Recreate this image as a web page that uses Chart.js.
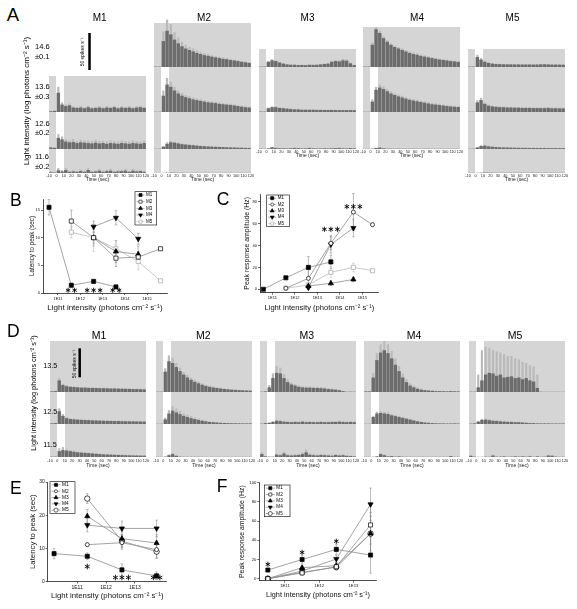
<!DOCTYPE html>
<html>
<head>
<meta charset="utf-8">
<script src="https://cdn.jsdelivr.net/npm/chart.js@4.4.1/dist/chart.umd.min.js"></script>
<style>
  html, body { margin: 0; padding: 0; background: #fff; }
  #fig { position: relative; width: 577px; height: 609px; overflow: hidden; font-family: "Liberation Sans", Arial, sans-serif; color: #000; }
  #fig canvas { position: absolute; z-index: 1; }
  .bg { position: absolute; z-index: 0; }
  .t { position: absolute; line-height: 1; white-space: nowrap; z-index: 2; }
</style>
</head>
<body>
<div id="fig"></div>
<script>
// 5 s bins of the PSTHs (bin centres, sec)
const TIME_BINS = [-7.5, -2.5, 2.5, 7.5, 12.5, 17.5, 22.5, 27.5, 32.5, 37.5, 42.5, 47.5, 52.5, 57.5, 62.5, 67.5, 72.5, 77.5, 82.5, 87.5, 92.5, 97.5, 102.5, 107.5, 112.5, 117.5];
const TIME_TICKS = [-10, 0, 10, 20, 30, 40, 50, 60, 70, 80, 90, 100, 110, 120];
const MICE = ['M1', 'M2', 'M3', 'M4', 'M5'];
const A_LEVELS = [['14.6', '±0.1'], ['13.6', '±0.3'], ['12.6', '±0.2'], ['11.6', '±0.2']];
const D_LEVELS = ['13.5', '12.5', '11.5'];

// Panel A, mean firing rate (spikes/s) and SEM
const A_M1_136 = [1, 1.5, 26, 10, 8, 9, 6, 5.5, 6, 5, 6.5, 5, 5.5, 6, 5, 6, 5.5, 6.5, 5, 6, 5.5, 6, 5, 6, 6.5, 5.5];
const A_M1_136_SEM = [0.5, 0.8, 8, 3, 2, 2.5, 1.5, 1.5, 2, 1.5, 2, 1.5, 1.5, 2, 1.5, 2, 1.5, 2, 1.5, 2, 1.5, 2, 1.5, 2, 2, 1.5];
const A_M1_126 = [2, 1.5, 15, 13, 10, 9, 9.5, 8, 9, 8.5, 8, 7.5, 8.5, 7.5, 8, 7, 8, 7.5, 7, 8, 7.5, 7, 8, 7.5, 7, 8];
const A_M1_126_SEM = [1, 1, 5, 4, 3.5, 3, 4, 3, 3.5, 3, 3, 3, 4, 3, 3, 3, 3.5, 3, 3, 3.5, 3, 3, 3.5, 3, 3, 3.5];
const A_M1_116 = [1, 0.5, 3.5, 2, 4, 1.5, 2, 1.5, 2.5, 1.5, 4, 1.5, 2, 3, 1.5, 2.5, 3, 1.5, 2, 2.5, 3, 1.5, 3, 2, 2.5, 1.5];
const A_M1_116_SEM = [1, 0.5, 3, 2, 3, 1.5, 2, 1.5, 2, 1.5, 3, 1.5, 2, 2.5, 1.5, 2, 2.5, 1.5, 2, 2, 2.5, 1.5, 2.5, 2, 2, 1.5];

const A_M2_146 = [0.5, 0.5, 35, 49, 44, 37, 32, 28, 25, 23, 21, 19, 17.5, 16, 15, 14, 13, 12, 11, 10.5, 9.5, 8.8, 8, 7, 6.3, 5.5];
const A_M2_146_SEM = [0.3, 0.3, 13, 15, 14, 10, 8, 6, 5, 4, 4, 3.5, 3, 3, 2.5, 2, 2, 2, 2, 1.5, 1.5, 1.2, 1.2, 1.2, 1, 1];
const A_M2_136 = [0.3, 0.3, 22, 37, 34, 29, 25, 22, 20, 18.5, 17, 16, 15, 14, 13, 12.5, 12, 11, 10.5, 10, 9.5, 8.8, 8, 7.2, 6.5, 6];
const A_M2_136_SEM = [0.2, 0.2, 7, 9, 7, 5, 4, 3.5, 3, 3, 2.5, 2.5, 2.2, 2, 2, 2, 1.8, 1.8, 1.5, 1.5, 1.5, 1.5, 1.3, 1.2, 1, 1];
const A_M2_126 = [0.3, 0.3, 3, 7, 9, 8.5, 7.5, 6.5, 6, 5.5, 5, 4.5, 4, 3.7, 3.4, 3.1, 2.9, 2.7, 2.5, 2.3, 2.1, 2, 1.8, 1.7, 1.5, 1.4];
const A_M2_126_SEM = [0, 0, 1, 2, 2, 1.5, 1.2, 1, 1, 0.8, 0.8, 0.7, 0.6, 0.6, 0.5, 0.5, 0.5, 0.4, 0.4, 0.4, 0.3, 0.3, 0.3, 0.3, 0.3, 0.3];
const A_M2_116 = [0, 0, 0.3, 0.5, 0.5, 0.4, 0.3, 0.3, 0.2, 0.2, 0.2, 0.2, 0.2, 0.2, 0.2, 0.2, 0.2, 0.2, 0.2, 0.2, 0.2, 0.2, 0.2, 0.2, 0.2, 0.2];

const A_M3_146 = [0.5, 0.5, 7, 9, 8, 6, 4.5, 3.5, 3, 3, 2.5, 2.7, 2.5, 3, 2.8, 3, 3.5, 4, 4.5, 7, 8, 7.5, 9, 8.5, 5, 2.5];
const A_M3_146_SEM = [0, 0, 1, 1.5, 1, 1, 0.8, 0.6, 0.5, 0.5, 0.5, 0.5, 0.5, 0.5, 0.5, 0.5, 0.6, 0.7, 0.8, 1.5, 1.5, 1.5, 2, 2, 1, 0.5];
const A_M3_136 = [0.5, 0.5, 5, 6.5, 6.5, 5.5, 5, 4.5, 4, 3.5, 3.5, 3, 3, 3, 3, 2.8, 2.8, 2.7, 2.7, 2.7, 2.6, 2.5, 2.5, 2.5, 2.5, 2.4];
const A_M3_136_SEM = [0.2, 0.2, 1, 1.2, 1.2, 1, 1, 0.8, 0.8, 0.7, 0.7, 0.6, 0.6, 0.6, 0.6, 0.6, 0.6, 0.5, 0.5, 0.5, 0.5, 0.5, 0.5, 0.5, 0.5, 0.5];
const A_M3_126 = [0.5, 0.3, 1, 2.5, 1.5, 1, 1, 0.8, 1, 1.5, 1.2, 0.8, 1, 1.5, 1, 0.8, 0.8, 1, 0.8, 1, 1.2, 1.5, 1, 0.8, 1.3, 1];

const A_M4_146 = [0.5, 0.5, 30, 51, 46, 39, 34, 30, 27, 25, 23, 21, 19, 17.5, 16.5, 15, 14, 13, 12, 11, 10, 9.5, 8.8, 8, 7.5, 7];
const A_M4_146_SEM = [0.2, 0.2, 3, 3, 3, 2.5, 2.5, 2, 2, 2, 2, 2, 2, 2, 2, 1.8, 1.8, 1.5, 1.5, 1.5, 1.5, 1.3, 1.3, 1.2, 1.2, 1];
const A_M4_136 = [0.3, 0.3, 14, 30, 33, 31, 28, 25, 23, 21, 19.5, 18, 16.5, 15.5, 14.5, 13.5, 12.5, 11.5, 10.5, 10, 9.3, 8.7, 8, 7.5, 7, 6.7];
const A_M4_136_SEM = [0, 0, 3, 4, 4, 3.5, 3, 3, 2.5, 2.5, 2.5, 2.5, 2, 2, 2, 2, 2, 2, 2, 1.8, 1.8, 1.5, 1.5, 1.5, 1.5, 1.3];
const A_M4_126 = [0.2, 0.2, 0.5, 1.5, 2, 1, 0.5, 0.5, 0.4, 0.4, 0.4, 0.4, 0.4, 0.4, 0.4, 0.3, 0.3, 0.3, 0.3, 0.3, 0.3, 0.3, 0.3, 0.3, 0.3, 0.3];

const A_M5_146 = [0.5, 0.5, 13.5, 10, 7, 5.5, 4.5, 4, 3.8, 3.6, 3.5, 3.5, 3.4, 3.4, 3.3, 3.3, 3.3, 3.2, 3.3, 3.5, 3.6, 3.4, 3.2, 3.2, 3.1, 3];
const A_M5_146_SEM = [0.2, 0.2, 3, 2, 1.5, 1, 0.8, 0.6, 0.6, 0.5, 0.5, 0.5, 0.5, 0.5, 0.5, 0.5, 0.5, 0.5, 0.5, 0.5, 0.5, 0.5, 0.5, 0.5, 0.5, 0.5];
const A_M5_136 = [0.3, 0.3, 13, 16, 11, 8.5, 7.5, 7, 6.5, 6.5, 6, 6, 5.8, 5.8, 5.5, 5.5, 5.5, 5.3, 5.3, 5.2, 5.2, 5.5, 5, 5, 4.8, 4.8];
const A_M5_136_SEM = [0.2, 0.2, 3, 3, 2, 1.5, 1.2, 1, 1, 1, 1, 1, 1, 1, 1, 1, 1, 1, 1, 1, 1, 1, 1, 1, 1, 1];
const A_M5_126 = [0.3, 0.3, 2, 4, 4.5, 3.5, 3, 2.6, 2.3, 2.1, 2, 1.8, 1.7, 1.6, 1.5, 1.5, 1.4, 1.4, 1.3, 1.3, 1.3, 1.2, 1.2, 1.2, 1.1, 1.1];
const A_M5_126_SEM = [0, 0, 0.5, 1, 1, 0.8, 0.6, 0.5, 0.5, 0.4, 0.4, 0.4, 0.3, 0.3, 0.3, 0.3, 0.3, 0.3, 0.3, 0.3, 0.3, 0.3, 0.3, 0.3, 0.3, 0.3];
const A_M5_116 = [0.2, 0.2, 0.3, 0.5, 0.6, 0.5, 0.4, 0.3, 0.3, 0.3, 0.3, 0.3, 0.3, 0.3, 0.3, 0.3, 0.3, 0.3, 0.3, 0.3, 0.3, 0.3, 0.3, 0.3, 0.3, 0.3];

// Panel D
const D_M1_135 = [1, 1.5, 20, 12, 10, 9, 8.5, 8, 7.5, 7.5, 7, 7, 6.8, 6.5, 6.5, 6.3, 6, 6, 5.8, 5.6, 5.5, 5.3, 5, 5, 4.8, 4.5];
const D_M1_135_SEM = [0.5, 0.5, 4, 2, 1.5, 1, 1, 1, 1, 1, 1, 1, 0.8, 0.8, 0.8, 0.8, 0.8, 0.8, 0.8, 0.8, 0.7, 0.7, 0.7, 0.7, 0.7, 0.7];
const D_M1_125 = [1, 1.5, 22, 14, 10, 8.5, 8, 7.5, 7, 6.8, 6.5, 6.2, 6, 5.8, 5.5, 5.3, 5.2, 5, 5, 4.8, 4.6, 4.5, 4.5, 4.3, 4.2, 4];
const D_M1_125_SEM = [0.5, 0.5, 5, 3, 2, 1.5, 1.5, 1.2, 1.2, 1.2, 1, 1, 1, 1, 1, 1, 1, 1, 1, 1, 1, 1, 1, 1, 1, 1];
const D_M1_115 = [0.5, 0.5, 10, 12, 11, 10, 9, 8, 7.5, 7, 6.5, 6, 5.5, 5, 4.5, 4.2, 4, 3.7, 3.5, 3.2, 3, 2.8, 2.6, 2.5, 2.3, 2.2];
const D_M1_115_SEM = [0.3, 0.3, 5, 5, 3, 2, 2, 1.5, 1.5, 1.5, 1.2, 1.2, 1.2, 1, 1, 1, 1, 1, 1, 1, 1, 1, 1, 1, 1, 1];

const D_M2_135 = [0.5, 0.5, 35, 53, 50, 43, 36, 30, 25, 21, 17.5, 15, 12.5, 10.5, 9, 7.8, 6.8, 6, 5.2, 4.6, 4, 3.6, 3.2, 2.9, 2.6, 2.3];
const D_M2_135_SEM = [0, 0, 6, 10, 9, 7, 6, 5, 4.5, 4, 3.5, 3, 2.5, 2, 1.8, 1.5, 1.3, 1.2, 1, 1, 0.8, 0.8, 0.7, 0.6, 0.5, 0.5];
const D_M2_125 = [0.3, 0.3, 8, 18, 23, 20, 17, 14, 12, 10, 8.5, 7, 5.5, 4.5, 3.5, 3, 2.5, 2, 1.7, 1.5, 1.3, 1.2, 1.1, 1, 1, 1];
const D_M2_125_SEM = [0, 0, 3, 6, 8, 7, 6, 5, 4, 3.5, 3, 2.5, 2, 1.5, 1.2, 1, 0.8, 0.6, 0.5, 0.5, 0.4, 0.4, 0.3, 0.3, 0.3, 0.3];
const D_M2_115 = [0.2, 0.2, 0.5, 3, 5, 2, 0.5, 0.3, 0.3, 0.3, 0.3, 0.3, 0.2, 0.2, 0.2, 0.2, 0.2, 0.2, 0.2, 0.2, 0.2, 0.2, 0.2, 0.2, 0.2, 0.2];
const D_M2_115_SEM = [0, 0, 0.5, 1.5, 2, 1, 0.3, 0.2, 0.2, 0.2, 0.2, 0.2, 0.1, 0.1, 0.1, 0.1, 0.1, 0.1, 0.1, 0.1, 0.1, 0.1, 0.1, 0.1, 0.1, 0.1];

const D_M3_135 = [0.5, 1, 8, 24, 33, 32, 24, 17, 13, 11, 9, 8, 7.5, 7.5, 7, 7, 6.5, 6, 5, 4.5, 4, 3, 1.5, 0.5, 0.5, 0.5];
const D_M3_135_SEM = [0, 0, 4, 8, 12, 10, 7, 5, 3, 2.5, 2, 2, 2, 2, 2, 2, 2, 2, 1.5, 1.5, 1.5, 1, 0.5, 0, 0, 0];
const D_M3_125 = [0.5, 1.5, 2, 3.5, 5.5, 5, 4, 3.5, 3, 3.5, 3, 4, 3, 3.5, 3, 3, 3.5, 3, 3, 3.5, 3.5, 4, 3.5, 3, 3.5, 3];
const D_M3_125_SEM = [0.5, 1, 1, 1.5, 2, 2, 1.5, 1.5, 1.5, 1.5, 1.5, 1.5, 1.5, 1.5, 1.5, 1.5, 1.5, 1.5, 1.5, 1.5, 1.5, 1.5, 1.5, 1.5, 1.5, 1.5];
const D_M3_115 = [5, 1, 0.5, 0.5, 4, 3, 6, 3, 2.5, 3, 3.5, 5, 8, 4, 3, 2.5, 3.5, 3, 2.5, 2, 3.5, 2.5, 3, 2, 1.5, 1];
const D_M3_115_SEM = [3, 0.5, 0, 0, 2, 2, 3, 2, 2, 2, 2, 3, 5, 2, 2, 2, 2, 2, 2, 2, 2, 2, 2, 1, 1, 1];

const D_M4_135 = [1, 1, 25, 55, 68, 72, 67, 58, 47, 36, 25, 17, 11, 8, 5.5, 4, 3, 2.5, 2, 1.5, 1.5, 1.3, 1.2, 1.5, 1.2, 1];
const D_M4_135_SEM = [0.5, 0.5, 8, 12, 14, 16, 15, 13, 11, 9, 7, 5, 4, 3, 2.5, 1.5, 1, 1, 0.8, 0.5, 0.5, 0.5, 0.5, 0.5, 0.5, 0.5];
const D_M4_125 = [0.3, 0.3, 12, 18, 19, 18, 17, 15, 13.5, 12, 10.5, 9, 7.5, 6, 4.5, 3.5, 2.5, 2, 1.5, 1.2, 1, 1, 0.8, 0.8, 1, 0.8];
const D_M4_125_SEM = [0, 0, 2, 3, 3, 3, 3, 2.5, 2, 2, 2, 1.5, 1.5, 1, 1, 1, 0.8, 0.6, 0.5, 0.5, 0.5, 0.5, 0.4, 0.4, 0.4, 0.4];
const D_M4_115 = [0.2, 0.2, 0.3, 1, 5, 3, 1, 1.5, 0.5, 1, 0.5, 0.3, 0.3, 0.3, 0.3, 0.3, 0.3, 0.3, 0.3, 0.3, 0.3, 0.3, 0.3, 1.5, 0.3, 0.3];
const D_M4_115_SEM = [0, 0, 0.2, 0.5, 2, 1.5, 0.5, 0.5, 0.3, 0.5, 0.3, 0.2, 0.2, 0.2, 0.2, 0.2, 0.2, 0.2, 0.2, 0.2, 0.2, 0.2, 0.2, 0.5, 0.2, 0.2];

const D_M5_135 = [0.5, 0.5, 8, 20, 30, 33, 32, 28, 30, 25, 26, 27, 24, 25, 22, 24, 20, 18, 7, 0.5, 0.3, 0.3, 0.3, 0.3, 0.3, 0.3];
const D_M5_135_SEM = [0, 0, 22, 52, 48, 43, 40, 42, 38, 40, 36, 35, 34, 31, 30, 26, 26, 26, 23, 0, 0, 0, 0, 0, 0, 0];
const D_M5_125 = [0.5, 1, 4, 7, 7.5, 6.5, 5.5, 5, 4.5, 4, 3.5, 3.5, 3, 3, 2.5, 2, 1.5, 1.5, 1, 1, 1, 1, 0.8, 0.8, 0.8, 0.8];
const D_M5_125_SEM = [0.5, 0.5, 1.5, 2, 2, 2, 1.5, 1.5, 1.5, 1.5, 1.5, 1.5, 1, 1, 1, 1, 0.8, 0.8, 0.5, 0.5, 0.5, 0.5, 0.5, 0.5, 0.5, 0.5];
const D_M5_115 = [2, 0.5, 0.2, 0.2, 0.5, 0.3, 2.5, 0.5, 0.5, 1, 0.3, 0.5, 1, 0.5, 1, 0.5, 1.2, 0.3, 1, 0.3, 0.5, 2.5, 2, 0.5, 0.3, 0.3];
const D_M5_115_SEM = [1.5, 0.5, 0.2, 0.2, 0.5, 0.3, 1.5, 0.5, 0.5, 0.8, 0.3, 0.5, 0.8, 0.5, 0.8, 0.5, 1, 0.3, 0.8, 0.3, 0.5, 1.5, 1.5, 0.5, 0.3, 0.3];

// B: latency to peak (sec) vs log10 light intensity
const B_M1_X = [10.6, 11.6, 12.6, 13.6], B_M1_Y = [15.5, 1.4, 2.1, 1.1], B_M1_ERR = [1.4, 0.3, 0.3, 0.3];
const B_M2_X = [11.6, 12.6, 13.6, 14.6, 15.6], B_M2_Y = [13, 10, 6.3, 6.5, 8], B_M2_ERR = [2, 1.5, 1.5, 1, 0.3];
const B_M3_X = [12.6, 13.6, 14.6], B_M3_Y = [10, 7.5, 7], B_M3_ERR = [1, 2, 1.5];
const B_M4_X = [12.6, 13.6, 14.6], B_M4_Y = [12, 13.6, 9.8], B_M4_ERR = [1, 1.3, 1];
const B_M5_X = [11.6, 12.6, 13.6, 14.6, 15.6], B_M5_Y = [11, 10, 8, 5.7, 2.2], B_M5_ERR = [1, 2.5, 1.5, 1.5, 0.3];
const B_STARS = [{ x: 11.6, y: 0.5, n: 2 }, { x: 12.6, y: 0.5, n: 3 }, { x: 13.6, y: 0.5, n: 2 }];

// C: peak response amplitude (Hz)
const C_M1_X = [10.6, 11.6, 12.6, 13.6], C_M1_Y = [0, 10.5, 20, 25], C_M1_ERR = [0.5, 1.5, 10, 6];
const C_M2_X = [11.6, 12.6, 13.6, 14.6, 15.45], C_M2_Y = [1, 10, 42, 70.5, 59], C_M2_ERR = [0.5, 8, 6, 17, 1];
const C_M3_X = [12.6, 13.6, 14.6], C_M3_Y = [3, 5.5, 9], C_M3_ERR = [1, 2, 2];
const C_M4_X = [12.6, 13.6, 14.6], C_M4_Y = [1.5, 41, 56], C_M4_ERR = [1, 8, 8];
const C_M5_X = [11.6, 12.6, 13.6, 14.6, 15.45], C_M5_Y = [1, 4, 15.5, 20, 17], C_M5_ERR = [0.5, 1, 5, 4, 1];
const C_STARS = [{ x: 13.6, y: 54.8, n: 3 }, { x: 14.6, y: 75.5, n: 3 }];

// E: latency to peak (sec)
const E_M1_X = [10.2, 11.35, 12.55, 13.75], E_M1_Y = [8.4, 7.6, 3.5, 1.7], E_M1_ERR = [1.5, 1, 1.8, 1.2];
const E_X = [11.35, 12.55, 13.75];
const E_M2_Y = [11.1, 11.7, 9.6], E_M2_ERR = [0.5, 2, 2.5];
const E_M3_Y = [19.7, 12.9, 11.6], E_M3_ERR = [2, 2.5, 2.5];
const E_M4_Y = [17, 16, 16], E_M4_ERR = [2, 2.2, 2.5];
const E_M5_Y = [25, 12.2, 9.0], E_M5_ERR = [1.5, 2, 2];
const E_STARS = [{ x: 11.35, y: 4.5, n: 1 }, { x: 12.55, y: 1.2, n: 3 }, { x: 13.75, y: 1.2, n: 2 }];

// F: peak response amplitude (Hz)
const F_X = [10.5, 11.5, 12.5, 13.5];
const F_M1_Y = [9, 20, 30.5, 24.6], F_M1_ERR = [1, 4, 5, 19];
const F_M2_Y = [0, 6, 12.5, 56], F_M2_ERR = [0.5, 1.5, 3, 20];
const F_M3_Y = [0, 11.5, 13.5, 47], F_M3_ERR = [0.5, 2, 3, 18];
const F_M4_Y = [0, 8, 20.5, 77.5], F_M4_ERR = [0.5, 2, 4, 17];
const F_M5_Y = [0, 6.6, 12, 47], F_M5_ERR = [0.5, 1.5, 3, 22];
const F_STARS = [{ x: 10.5, y: 15, n: 1 }, { x: 11.5, y: 27.4, n: 1 }, { x: 12.5, y: 39, n: 1 }];

const LOG_TICKS = [11, 12, 13, 14, 15];
const LOG_TICKS_EF = [11, 12, 13];

Chart.defaults.font.family = '"Liberation Sans", Arial, sans-serif';
Chart.defaults.color = '#111';

const fig = document.getElementById('fig');
const PAD_X = 6;
const T_MIN = -10, T_MAX = 120;

// plain background box (grey recording window / white light-on stripe)
function addBox(x, y, w, h, color) {
  const d = document.createElement('div');
  d.className = 'bg';
  d.style.left = x + 'px';
  d.style.top = y + 'px';
  d.style.width = w + 'px';
  d.style.height = h + 'px';
  d.style.background = color;
  fig.appendChild(d);
}

// 50 spikes/s scale bar drawn with the column's own scales
function scaleBarPlugin(bar) {
  return {
    id: 'scaleBar',
    afterDraw(chart) {
      if (!bar) return;
      const { ctx, scales: { x, y } } = chart;
      const px = x.getPixelForValue(bar.t);
      const y0 = y.getPixelForValue(bar.hz), y1 = y.getPixelForValue(bar.hz + 50);
      ctx.save();
      ctx.fillStyle = '#000';
      ctx.fillRect(px - bar.w / 2, y1, bar.w, y0 - y1);
      ctx.restore();
    }
  };
}

function barSet(data, color, order, pct) {
  return { data, backgroundColor: color, order, grouped: false, clip: false, borderWidth: 0, barPercentage: pct, categoryPercentage: 1 };
}

// time axis under each column: an empty chart that only shows its x scale
function timeAxis(left, base, L) {
  const cv = document.createElement('canvas');
  cv.width = L.width + 2 * PAD_X;
  cv.height = L.axisH + 1;
  cv.style.left = (left - PAD_X) + 'px';
  cv.style.top = (base - 1) + 'px';
  fig.appendChild(cv);
  new Chart(cv, {
    type: 'scatter',
    data: { datasets: [] },
    options: {
      responsive: false, animation: false, events: [],
      layout: { padding: { left: PAD_X, right: PAD_X, top: 0, bottom: 0 } },
      plugins: { legend: { display: false }, tooltip: { enabled: false } },
      scales: {
        x: {
          type: 'linear', min: T_MIN, max: T_MAX,
          grid: { display: false, drawTicks: false }, border: { display: false },
          afterBuildTicks: s => { s.ticks = TIME_TICKS.map(v => ({ value: v })); },
          afterFit: s => { s.height = L.axisH; },
          ticks: { font: { size: 3.8 }, color: '#222', padding: L.tickPad, maxRotation: 0, minRotation: 0, autoSkip: false },
          title: { display: true, text: 'Time (sec)', font: { size: 5 }, padding: 0, color: '#222' }
        },
        y: { display: false, min: 0, max: 1 }
      }
    }
  });
}

// one chart per mouse column; light levels are stacked as floating bars on a common spikes/s scale
function histColumn(col, c, L) {
  const used = col.map((v, r) => (v ? r : -1)).filter(r => r >= 0);
  const bottom = L.rowBase[used[used.length - 1]];
  const colTop = L.colTop[c];
  const left = L.left[c];
  const yMax = (bottom - colTop) / L.pxPerHz;
  const off = r => (bottom - L.rowBase[r]) / L.pxPerHz;
  const sb = L.scaleBar && L.scaleBar.col === c ? L.scaleBar : null;
  const padTop = sb ? sb.padTop : 6;

  // grey window and white light-on stripes behind the bars
  addBox(left, colTop, L.width, bottom - colTop, '#d5d5d5');
  const sx = left + L.width * (0 - T_MIN) / (T_MAX - T_MIN);
  const sw = L.width * 10 / (T_MAX - T_MIN);

  const datasets = [];
  used.forEach((r, k) => {
    const mean = col[r][0], sem = col[r][1], b = off(r);
    if (sem) datasets.push(barSet(TIME_BINS.map((t, i) => ({ x: t, y: [b, b + mean[i] + sem[i]] })), '#bababa', 2, 0.6));
    datasets.push(barSet(TIME_BINS.map((t, i) => ({ x: t, y: [b, b + mean[i]] })), '#6c6c6c', 1, 0.92));
    if (!L.noStripe.some(p => p[0] === c && p[1] === r)) {
      const y0 = k === 0 ? colTop : L.rowBase[used[k - 1]];
      addBox(sx, y0, sw, L.rowBase[r] - y0, '#fff');
    }
  });

  const cv = document.createElement('canvas');
  cv.width = L.width + 2 * PAD_X;
  cv.height = bottom - colTop + padTop;
  cv.style.left = (left - PAD_X) + 'px';
  cv.style.top = (colTop - padTop) + 'px';
  fig.appendChild(cv);

  const bar = sb ? { t: sb.t, w: sb.w, hz: (bottom - sb.px) / L.pxPerHz } : null;
  new Chart(cv, {
    type: 'bar',
    data: { datasets },
    options: {
      responsive: false, animation: false, events: [],
      layout: { padding: { left: PAD_X, right: PAD_X, top: padTop, bottom: 0 } },
      plugins: { legend: { display: false }, tooltip: { enabled: false } },
      scales: {
        x: { type: 'linear', min: T_MIN, max: T_MAX, offset: false, display: false },
        y: { display: false, min: 0, max: yMax }
      }
    },
    plugins: [scaleBarPlugin(bar)]
  });
  timeAxis(left, bottom, L);
}

const A_COLS = [
  [null, [A_M1_136, A_M1_136_SEM], [A_M1_126, A_M1_126_SEM], [A_M1_116, A_M1_116_SEM]],
  [[A_M2_146, A_M2_146_SEM], [A_M2_136, A_M2_136_SEM], [A_M2_126, A_M2_126_SEM], [A_M2_116, null]],
  [[A_M3_146, A_M3_146_SEM], [A_M3_136, A_M3_136_SEM], [A_M3_126, null], null],
  [[A_M4_146, A_M4_146_SEM], [A_M4_136, A_M4_136_SEM], [A_M4_126, null], null],
  [[A_M5_146, A_M5_146_SEM], [A_M5_136, A_M5_136_SEM], [A_M5_126, A_M5_126_SEM], [A_M5_116, null]]
];
const D_COLS = [
  [[D_M1_135, D_M1_135_SEM], [D_M1_125, D_M1_125_SEM], [D_M1_115, D_M1_115_SEM]],
  [[D_M2_135, D_M2_135_SEM], [D_M2_125, D_M2_125_SEM], [D_M2_115, D_M2_115_SEM]],
  [[D_M3_135, D_M3_135_SEM], [D_M3_125, D_M3_125_SEM], [D_M3_115, D_M3_115_SEM]],
  [[D_M4_135, D_M4_135_SEM], [D_M4_125, D_M4_125_SEM], [D_M4_115, D_M4_115_SEM]],
  [[D_M5_135, D_M5_135_SEM], [D_M5_125, D_M5_125_SEM], [D_M5_115, D_M5_115_SEM]]
];

const A_LAYOUT = {
  pxPerHz: 0.74, width: 97, left: [49, 154, 259, 363, 468],
  rowBase: [67, 112, 149, 173], colTop: [76, 23, 49, 27, 49],
  noStripe: [[1, 0], [3, 0]], axisH: 10, tickPad: 0.6,
  scaleBar: { col: 0, padTop: 46, t: 44.3, px: 70, w: 2.5 }
};
const D_LAYOUT = {
  pxPerHz: 0.58, width: 96, left: [50, 156, 260, 364, 469],
  rowBase: [392, 424, 457], colTop: [341, 341, 341, 341, 341],
  noStripe: [[0, 0], [3, 0]], axisH: 12, tickPad: 1.6,
  scaleBar: { col: 0, padTop: 6, t: 30.2, px: 377.3, w: 2.5 }
};
A_COLS.forEach((col, c) => histColumn(col, c, A_LAYOUT));
D_COLS.forEach((col, c) => histColumn(col, c, D_LAYOUT));

// --- line panels ---
const errorBars = {
  id: 'errorBars',
  beforeDatasetsDraw(chart) {
    const { ctx, scales: { y } } = chart;
    ctx.save();
    ctx.lineWidth = 0.6;
    chart.data.datasets.forEach((ds, i) => {
      if (!ds.errors) return;
      const meta = chart.getDatasetMeta(i);
      ctx.strokeStyle = ds.borderColor;
      meta.data.forEach((pt, j) => {
        const v = ds.data[j].y, e = ds.errors[j];
        const t = y.getPixelForValue(v + e), b = y.getPixelForValue(v - e);
        ctx.beginPath();
        ctx.moveTo(pt.x, t); ctx.lineTo(pt.x, b);
        ctx.moveTo(pt.x - 1.2, t); ctx.lineTo(pt.x + 1.2, t);
        ctx.moveTo(pt.x - 1.2, b); ctx.lineTo(pt.x + 1.2, b);
        ctx.stroke();
      });
    });
    ctx.restore();
  }
};

const stars = {
  id: 'stars',
  afterDatasetsDraw(chart, args, o) {
    if (!o.items) return;
    const { ctx, scales: { x, y } } = chart;
    ctx.save();
    ctx.strokeStyle = '#000';
    ctx.lineWidth = 0.9;
    o.items.forEach(it => {
      const cx = x.getPixelForValue(it.x), cy = y.getPixelForValue(it.y);
      for (let k = 0; k < it.n; k++) {
        const px = cx + (k - (it.n - 1) / 2) * o.gap;
        for (let a = 0; a < 3; a++) {
          const ang = Math.PI / 2 + a * Math.PI / 3;
          ctx.beginPath();
          ctx.moveTo(px - Math.cos(ang) * o.r, cy - Math.sin(ang) * o.r);
          ctx.lineTo(px + Math.cos(ang) * o.r, cy + Math.sin(ang) * o.r);
          ctx.stroke();
        }
      }
    });
    ctx.restore();
  }
};

const legendBox = {
  id: 'legendBox',
  afterDraw(chart, args, o) {
    if (o.w == null) return;
    const { ctx, chartArea: a } = chart;
    const x0 = a.left + o.dx, y0 = a.top + o.dy;
    const n = chart.data.datasets.length, step = o.h / n;
    ctx.save();
    ctx.fillStyle = '#fff';
    ctx.fillRect(x0, y0, o.w, o.h);
    ctx.strokeStyle = '#000';
    ctx.lineWidth = 0.6;
    ctx.strokeRect(x0, y0, o.w, o.h);
    chart.data.datasets.forEach((ds, i) => {
      const y = y0 + step * (i + 0.5);
      ctx.strokeStyle = ds.borderColor;
      ctx.lineWidth = 0.7;
      ctx.beginPath(); ctx.moveTo(x0 + 1.5, y); ctx.lineTo(x0 + o.line, y); ctx.stroke();
      ctx.fillStyle = ds.pointBackgroundColor;
      ctx.strokeStyle = ds.pointBorderColor;
      ctx.lineWidth = 0.6;
      Chart.helpers.drawPoint(ctx, { pointStyle: ds.pointStyle, rotation: ds.pointRotation, radius: ds.pointRadius * 0.75, borderWidth: 0.6 }, x0 + (1.5 + o.line) / 2, y);
      ctx.fillStyle = '#000';
      ctx.font = o.font + 'px "Liberation Sans", Arial, sans-serif';
      ctx.textBaseline = 'middle';
      ctx.fillText(ds.label, x0 + o.line + 1.5, y);
    });
    ctx.restore();
  }
};

const MK = {
  sq: { pointStyle: 'rect', pointRadius: 2.9, pointBackgroundColor: '#000', pointBorderColor: '#000' },
  osq: { pointStyle: 'rect', pointRadius: 2.9, pointBackgroundColor: '#fff', pointBorderColor: '#000' },
  gsq: { pointStyle: 'rect', pointRadius: 2.9, pointBackgroundColor: '#fff', pointBorderColor: '#a5a5a5' },
  tri: { pointStyle: 'triangle', pointRadius: 3, pointBackgroundColor: '#000', pointBorderColor: '#000' },
  dtri: { pointStyle: 'triangle', pointRadius: 3, pointRotation: 180, pointBackgroundColor: '#000', pointBorderColor: '#000' },
  oc: { pointStyle: 'circle', pointRadius: 2, pointBackgroundColor: '#fff', pointBorderColor: '#000' },
  boc: { pointStyle: 'circle', pointRadius: 2.7, pointBackgroundColor: '#fff', pointBorderColor: '#000' }
};
const LINE = '#8d8d8d', LINE_LIGHT = '#bdbdbd';

function series(name, xs, ys, err, mk, line) {
  return Object.assign({
    label: name, data: xs.map((x, i) => ({ x, y: ys[i] })), errors: err,
    showLine: true, borderColor: line, borderWidth: 0.8, pointBorderWidth: 0.7, pointRotation: 0
  }, mk);
}

function lineChart(P) {
  const cv = document.createElement('canvas');
  cv.width = P.w; cv.height = P.h;
  cv.style.left = P.left + 'px'; cv.style.top = P.top + 'px';
  fig.appendChild(cv);
  const axisCommon = {
    grid: { display: true, drawOnChartArea: false, drawTicks: true, tickLength: 2, color: '#000', lineWidth: 0.6 },
    border: { display: true, color: '#000', width: 0.7 }
  };
  new Chart(cv, {
    type: 'scatter',
    data: { datasets: P.datasets },
    options: {
      responsive: false, animation: false, events: [],
      layout: { padding: P.pad },
      plugins: {
        legend: { display: false }, tooltip: { enabled: false },
        stars: { items: P.stars, gap: 6.5, r: P.starR },
        legendBox: P.legend
      },
      scales: {
        x: Object.assign({}, axisCommon, {
          type: 'linear', min: P.x[0], max: P.x[1],
          afterBuildTicks: s => { s.ticks = P.xTicks.map(v => ({ value: v })); },
          afterFit: s => { s.height = P.xH; },
          ticks: { font: { size: P.tick }, color: '#111', padding: 1, maxRotation: 0, autoSkip: false, callback: v => '1E' + v },
          title: { display: true, text: 'Light intensity (photons cm⁻² s⁻¹)', font: { size: P.xTitle }, padding: 0, color: '#111' }
        }),
        y: Object.assign({}, axisCommon, {
          min: P.y[0], max: P.y[1],
          afterBuildTicks: s => { s.ticks = P.yTicks.map(v => ({ value: v })); },
          afterFit: s => { s.width = P.yW; },
          ticks: { font: { size: P.tick }, color: '#111', padding: 1 },
          title: { display: true, text: P.yLabel, font: { size: P.yTitle }, padding: 0, color: '#111' }
        })
      }
    },
    plugins: [errorBars, stars, legendBox]
  });
}

lineChart({
  left: 0, top: 184, w: 200, h: 130, pad: { left: 28, right: 33, top: 15, bottom: 1 },
  yW: 15, xH: 20, x: [10.33, 15.89], y: [0, 17], xTicks: LOG_TICKS, yTicks: [0, 5, 10, 15],
  tick: 4, xTitle: 8, yTitle: 6.3, yLabel: 'Latency to peak (sec)', stars: B_STARS, starR: 2.5,
  legend: { dx: 92, dy: -7.3, w: 21.7, h: 33.3, line: 9.5, font: 4.5 },
  datasets: [
    series('M1', B_M1_X, B_M1_Y, B_M1_ERR, MK.sq, LINE),
    series('M2', B_M2_X, B_M2_Y, B_M2_ERR, MK.osq, LINE),
    series('M3', B_M3_X, B_M3_Y, B_M3_ERR, MK.tri, LINE),
    series('M4', B_M4_X, B_M4_Y, B_M4_ERR, MK.dtri, LINE),
    series('M5', B_M5_X, B_M5_Y, B_M5_ERR, MK.gsq, LINE_LIGHT)
  ]
});

lineChart({
  left: 205, top: 184, w: 190, h: 130, pad: { left: 38, right: 16.2, top: 10, bottom: 1.2 },
  yW: 17, xH: 20.2, x: [10.45, 15.73], y: [-3, 87], xTicks: LOG_TICKS, yTicks: [0, 20, 40, 60, 80],
  tick: 4, xTitle: 7.6, yTitle: 6.9, yLabel: 'Peak response amplitude (Hz)', stars: C_STARS, starR: 2.6,
  legend: { dx: 6.7, dy: 1, w: 22.6, h: 31.7, line: 9.5, font: 4.5 },
  datasets: [
    series('M1', C_M1_X, C_M1_Y, C_M1_ERR, MK.sq, LINE),
    series('M2', C_M2_X, C_M2_Y, C_M2_ERR, MK.oc, LINE),
    series('M3', C_M3_X, C_M3_Y, C_M3_ERR, MK.tri, LINE),
    series('M4', C_M4_X, C_M4_Y, C_M4_ERR, MK.dtri, LINE),
    series('M5', C_M5_X, C_M5_Y, C_M5_ERR, MK.gsq, LINE_LIGHT)
  ]
});

lineChart({
  left: 0, top: 470, w: 200, h: 139, pad: { left: 27.7, right: 33.3, top: 12, bottom: 8.5 },
  yW: 20, xH: 19, x: [9.98, 14.1], y: [0, 30], xTicks: LOG_TICKS_EF, yTicks: [0, 10, 20, 30],
  tick: 5, xTitle: 7.8, yTitle: 7.8, yLabel: 'Latency to peak (sec)', stars: E_STARS, starR: 2.8,
  legend: { dx: 2.3, dy: -0.3, w: 25, h: 31.6, line: 10.5, font: 4.8 },
  datasets: [
    series('M1', E_M1_X, E_M1_Y, E_M1_ERR, MK.sq, LINE),
    series('M2', E_X, E_M2_Y, E_M2_ERR, MK.oc, LINE),
    series('M3', E_X, E_M3_Y, E_M3_ERR, MK.tri, LINE),
    series('M4', E_X, E_M4_Y, E_M4_ERR, MK.dtri, LINE),
    series('M5', E_X, E_M5_Y, E_M5_ERR, MK.boc, LINE)
  ]
});

lineChart({
  left: 205, top: 470, w: 190, h: 139, pad: { left: 32.7, right: 18.3, top: 12.7, bottom: 9.5 },
  yW: 21.6, xH: 18.9, x: [10.25, 13.68], y: [-2, 100], xTicks: LOG_TICKS_EF, yTicks: [0, 20, 40, 60, 80, 100],
  tick: 4.2, xTitle: 7.3, yTitle: 6.9, yLabel: 'Peak response amplitude (Hz)', stars: F_STARS, starR: 2.6,
  legend: { dx: 5, dy: 2.3, w: 25.7, h: 31.7, line: 10.5, font: 4.6 },
  datasets: [
    series('M1', F_X, F_M1_Y, F_M1_ERR, MK.sq, LINE),
    series('M2', F_X, F_M2_Y, F_M2_ERR, MK.osq, LINE),
    series('M3', F_X, F_M3_Y, F_M3_ERR, MK.tri, LINE),
    series('M4', F_X, F_M4_Y, F_M4_ERR, MK.dtri, LINE),
    series('M5', F_X, F_M5_Y, F_M5_ERR, MK.boc, LINE)
  ]
});

// --- text ---
function addText(s, x, base, fs, center) {
  const d = document.createElement('div');
  d.className = 't';
  d.textContent = s;
  d.style.fontSize = fs + 'px';
  d.style.left = x + 'px';
  d.style.top = (base - 0.8465 * fs) + 'px';
  if (center) d.style.transform = 'translateX(-50%)';
  fig.appendChild(d);
}
function addVText(s, cx, cy, fs) {
  const d = document.createElement('div');
  d.className = 't';
  d.textContent = s;
  d.style.fontSize = fs + 'px';
  d.style.left = cx + 'px';
  d.style.top = cy + 'px';
  d.style.transform = 'translate(-50%,-50%) rotate(-90deg)';
  fig.appendChild(d);
}

addText('A', 6.7, 21.7, 18.5);
addText('B', 10, 207.3, 17.5);
addText('C', 216.7, 206, 17.5);
addText('D', 7, 338.3, 17.5);
addText('E', 10, 495, 17.5);
addText('F', 216.7, 493.3, 17.5);

const A_TITLE_X = [99.7, 204, 307.5, 417, 512.5];
const D_TITLE_X = [99, 203.3, 306.7, 414, 515];
MICE.forEach((m, i) => {
  addText(m, A_TITLE_X[i], 21.7, 10, true);
  addText(m, D_TITLE_X[i], 339.3, 10.5, true);
});

const A_LABEL_BASE = [[49, 59], [89, 99.7], [126.7, 135.7], [159, 169.7]];
A_LEVELS.forEach((lv, i) => {
  addText(lv[0], 35, A_LABEL_BASE[i][0], 7.5);
  addText(lv[1], 35, A_LABEL_BASE[i][1], 7.5);
});
const D_LABEL_BASE = [368.3, 413.7, 446.7];
D_LEVELS.forEach((lv, i) => addText(lv, 43.3, D_LABEL_BASE[i], 7.2));

addVText('Light intensity (log photons cm⁻² s⁻¹)', 26.7, 100.8, 8);
addVText('Light intensity (log photons cm⁻² s⁻¹)', 33.7, 393.3, 7.3);
addVText('50 spikes s⁻¹', 81.7, 51.7, 5);
addVText('50 spikes s⁻¹', 74.2, 364, 5);
</script>
</body>
</html>
